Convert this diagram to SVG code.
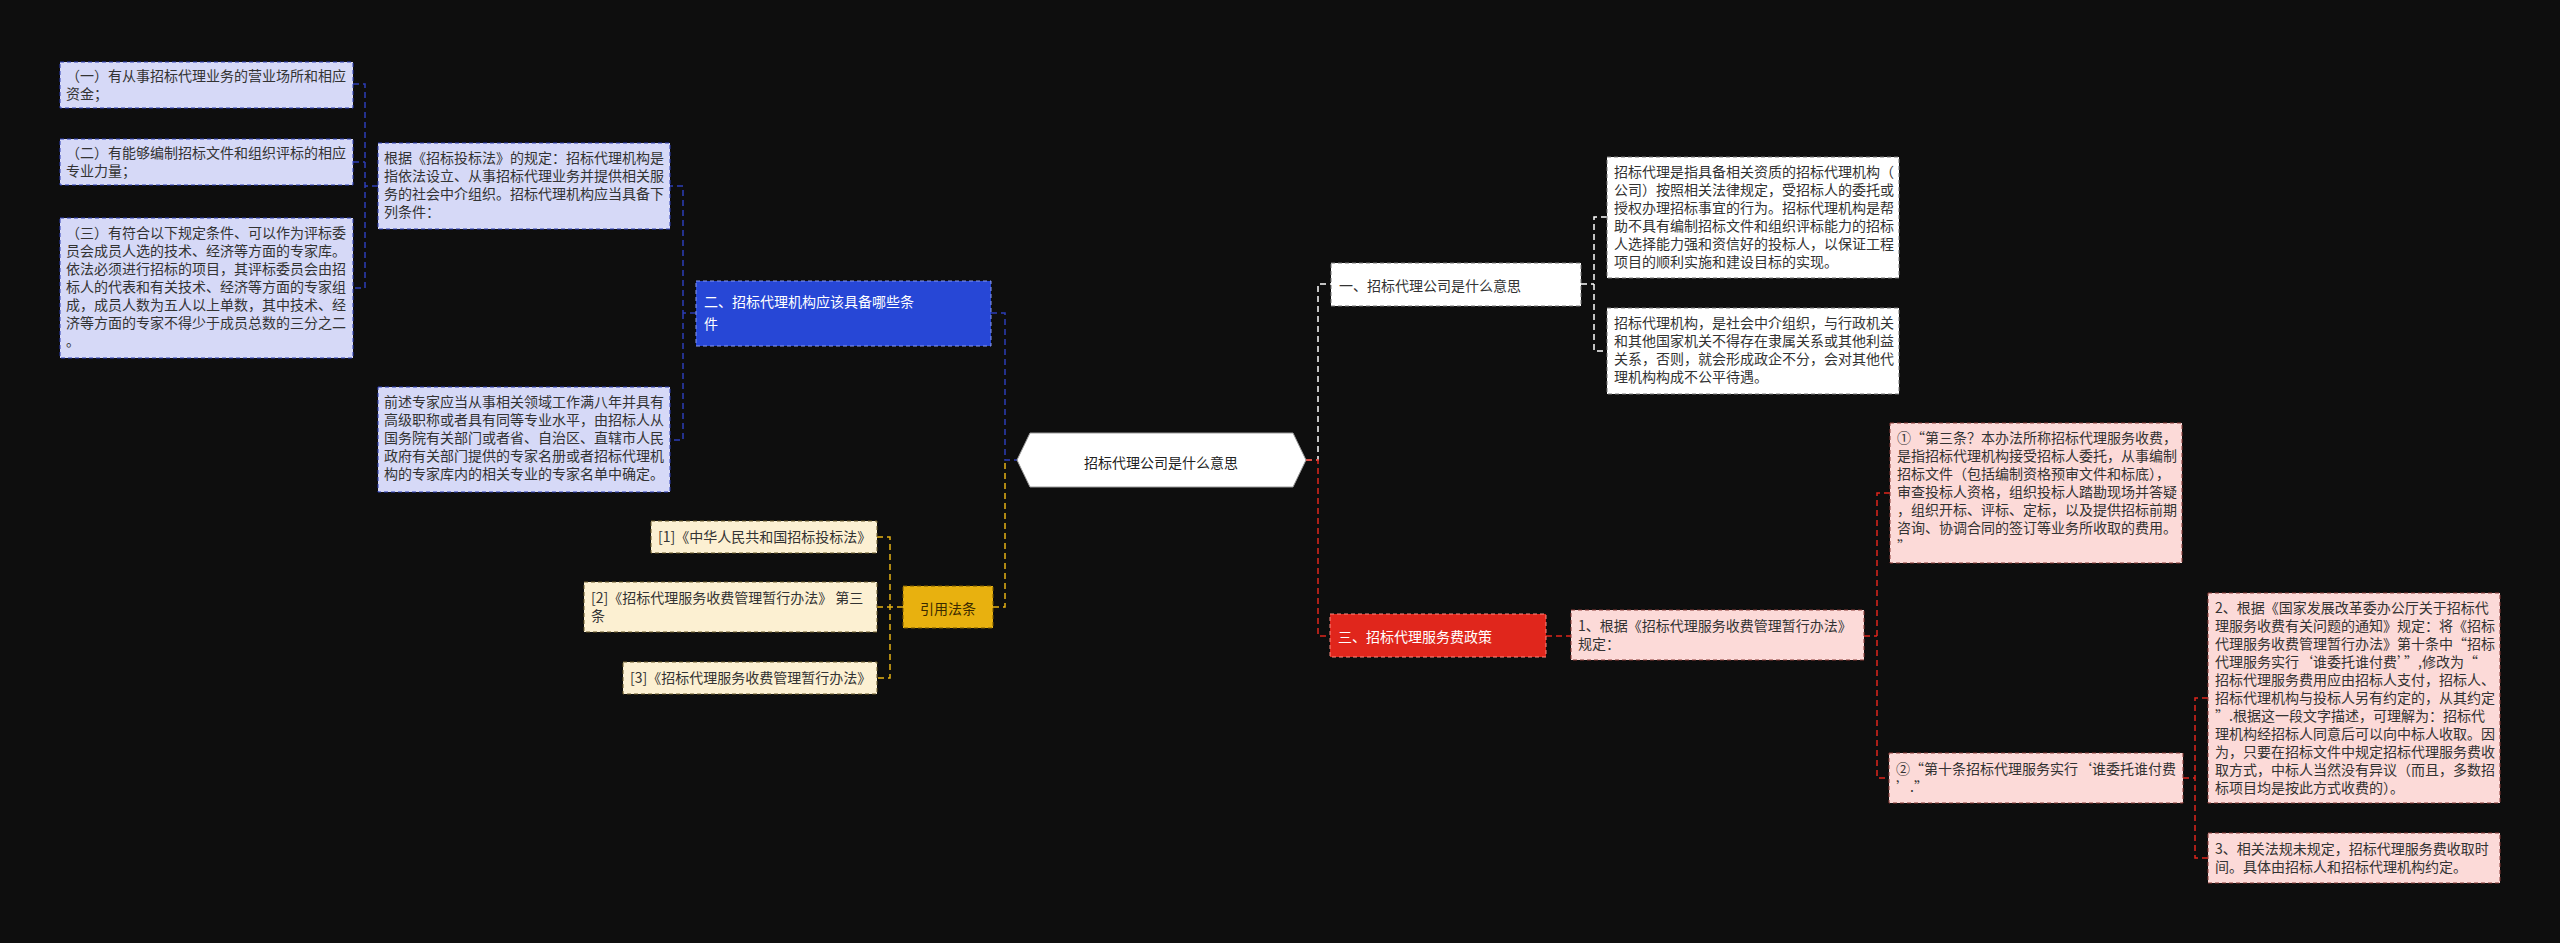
<svg xmlns="http://www.w3.org/2000/svg" width="2560" height="943" viewBox="0 0 2560 943">
<style>
text{font-family:"Noto Sans CJK SC","Noto Sans",sans-serif;font-size:14px;}
.bl{fill:#d6d9f7;stroke:#2c3eb8;stroke-dasharray:4 3;stroke-width:1}
.ye{fill:#fcf0d2;stroke:#6b5a2a;stroke-dasharray:4 3}
.pk{fill:#fcdad8;stroke:#8a3a36;stroke-dasharray:4 3}
.wh{fill:#ffffff;stroke:#777;stroke-dasharray:4 3}
.t{fill:#333}
.c{fill:none;stroke-width:1.5;stroke-dasharray:6 4}
</style>
<rect width="2560" height="943" fill="#0e0e0e"/>
<g id="connectors">
<path class="c" stroke="#2c3eb8" d="M378 186H365M353 84H365V288H353M353 162H365"/>
<path class="c" stroke="#2c3eb8" d="M696 313H683V186H670M683 313V440H670"/>
<path class="c" stroke="#2c3eb8" d="M991 313H1005V460H1017"/>
<path class="c" stroke="#e6b216" d="M993 607H1005V460"/>
<path class="c" stroke="#e6b216" d="M903 607H890M877 537H890V678H877M877 607H890"/>
<path class="c" stroke="#ffffff" d="M1306 460H1318V284H1331"/>
<path class="c" stroke="#e0261c" d="M1306 460H1318V636H1330"/>
<path class="c" stroke="#ffffff" d="M1581 284H1594M1607 217H1594V351H1607"/>
<path class="c" stroke="#e0261c" d="M1546 636H1571"/>
<path class="c" stroke="#e0261c" d="M1864 636H1877M1890 493H1877V778H1890"/>
<path class="c" stroke="#e0261c" d="M2183 778H2195M2208 698H2195V858H2208"/>
</g>
<g id="center"><path d="M1017 460L1030 433H1293L1306 460L1293 487H1030Z" fill="#fff" stroke="#999"/><text x="1161" y="468" text-anchor="middle" font-size="22" fill="#222">招标代理公司是什么意思</text></g>
<g id="n1"><rect class="bl" x="60" y="62" width="293" height="46"/><text class="t" x="66" y="81"><tspan>（一）有从事招标代理业务的营业场所和相应</tspan><tspan x="66" dy="18">资金；</tspan></text></g>
<g id="n2"><rect class="bl" x="60" y="139" width="293" height="46"/><text class="t" x="66" y="158"><tspan>（二）有能够编制招标文件和组织评标的相应</tspan><tspan x="66" dy="18">专业力量；</tspan></text></g>
<g id="n3"><rect class="bl" x="60" y="218" width="293" height="140"/><text class="t" x="66" y="238"><tspan>（三）有符合以下规定条件、可以作为评标委</tspan><tspan x="66" dy="18">员会成员人选的技术、经济等方面的专家库。</tspan><tspan x="66" dy="18">依法必须进行招标的项目，其评标委员会由招</tspan><tspan x="66" dy="18">标人的代表和有关技术、经济等方面的专家组</tspan><tspan x="66" dy="18">成，成员人数为五人以上单数，其中技术、经</tspan><tspan x="66" dy="18">济等方面的专家不得少于成员总数的三分之二</tspan><tspan x="66" dy="18">。</tspan></text></g>
<g id="n4"><rect class="bl" x="378" y="143" width="292" height="86"/><text class="t" x="384" y="163"><tspan>根据《招标投标法》的规定：招标代理机构是</tspan><tspan x="384" dy="18">指依法设立、从事招标代理业务并提供相关服</tspan><tspan x="384" dy="18">务的社会中介组织。招标代理机构应当具备下</tspan><tspan x="384" dy="18">列条件：</tspan></text></g>
<g id="n5"><rect class="bl" x="378" y="387" width="292" height="105"/><text class="t" x="384" y="407"><tspan>前述专家应当从事相关领域工作满八年并具有</tspan><tspan x="384" dy="18">高级职称或者具有同等专业水平，由招标人从</tspan><tspan x="384" dy="18">国务院有关部门或者省、自治区、直辖市人民</tspan><tspan x="384" dy="18">政府有关部门提供的专家名册或者招标代理机</tspan><tspan x="384" dy="18">构的专家库内的相关专业的专家名单中确定。</tspan></text></g>
<g id="b2"><rect x="696" y="281" width="295" height="65" fill="#2747d6" stroke="#8a9af0" stroke-dasharray="4 3"/><text x="704" y="307" font-size="17" fill="#fff"><tspan>二、招标代理机构应该具备哪些条</tspan><tspan x="704" dy="22">件</tspan></text></g>
<g id="ref"><rect x="903" y="586" width="90" height="42" fill="#e8b10f" stroke="#7a5a00" stroke-dasharray="4 3"/><text x="948" y="614" text-anchor="middle" font-size="19" fill="#3a2a00">引用法条</text></g>
<g id="r1"><rect class="ye" x="651" y="521" width="226" height="32"/><text class="t" x="658" y="542">[1]《中华人民共和国招标投标法》</text></g>
<g id="r2"><rect class="ye" x="584" y="582" width="293" height="50"/><text class="t" x="591" y="603"><tspan>[2]《招标代理服务收费管理暂行办法》 第三</tspan><tspan x="591" dy="18">条</tspan></text></g>
<g id="r3"><rect class="ye" x="623" y="662" width="254" height="32"/><text class="t" x="630" y="683">[3]《招标代理服务收费管理暂行办法》</text></g>
<g id="b1"><rect class="wh" x="1331" y="263" width="250" height="43"/><text x="1339" y="291" font-size="18" fill="#333">一、招标代理公司是什么意思</text></g>
<g id="a1"><rect class="wh" x="1607" y="157" width="292" height="121"/><text class="t" x="1614" y="177"><tspan>招标代理是指具备相关资质的招标代理机构（</tspan><tspan x="1614" dy="18">公司）按照相关法律规定，受招标人的委托或</tspan><tspan x="1614" dy="18">授权办理招标事宜的行为。招标代理机构是帮</tspan><tspan x="1614" dy="18">助不具有编制招标文件和组织评标能力的招标</tspan><tspan x="1614" dy="18">人选择能力强和资信好的投标人，以保证工程</tspan><tspan x="1614" dy="18">项目的顺利实施和建设目标的实现。</tspan></text></g>
<g id="a2"><rect class="wh" x="1607" y="308" width="292" height="86"/><text class="t" x="1614" y="328"><tspan>招标代理机构，是社会中介组织，与行政机关</tspan><tspan x="1614" dy="18">和其他国家机关不得存在隶属关系或其他利益</tspan><tspan x="1614" dy="18">关系，否则，就会形成政企不分，会对其他代</tspan><tspan x="1614" dy="18">理机构构成不公平待遇。</tspan></text></g>
<g id="b3"><rect x="1330" y="614" width="216" height="43" fill="#e0261c" stroke="#ff8a80" stroke-dasharray="4 3"/><text x="1338" y="642" font-size="18" fill="#fff">三、招标代理服务费政策</text></g>
<g id="p1"><rect class="pk" x="1571" y="610" width="293" height="50"/><text class="t" x="1578" y="631"><tspan>1、根据《招标代理服务收费管理暂行办法》</tspan><tspan x="1578" dy="18">规定：</tspan></text></g>
<g id="p2"><rect class="pk" x="1890" y="423" width="292" height="140"/><text class="t" x="1897" y="443"><tspan>①“第三条？本办法所称招标代理服务收费，</tspan><tspan x="1897" dy="18">是指招标代理机构接受招标人委托，从事编制</tspan><tspan x="1897" dy="18">招标文件（包括编制资格预审文件和标底），</tspan><tspan x="1897" dy="18">审查投标人资格，组织投标人踏勘现场并答疑</tspan><tspan x="1897" dy="18">，组织开标、评标、定标，以及提供招标前期</tspan><tspan x="1897" dy="18">咨询、协调合同的签订等业务所收取的费用。</tspan><tspan x="1897" dy="18">”</tspan></text></g>
<g id="p3"><rect class="pk" x="1889" y="753" width="294" height="50"/><text class="t" x="1896" y="774"><tspan>②“第十条招标代理服务实行‘谁委托谁付费</tspan><tspan x="1896" dy="18">’.”</tspan></text></g>
<g id="p4"><rect class="pk" x="2208" y="593" width="292" height="210"/><text class="t" x="2215" y="613"><tspan>2、根据《国家发展改革委办公厅关于招标代</tspan><tspan x="2215" dy="18">理服务收费有关问题的通知》规定：将《招标</tspan><tspan x="2215" dy="18">代理服务收费管理暂行办法》第十条中“招标</tspan><tspan x="2215" dy="18">代理服务实行‘谁委托谁付费’”,修改为“</tspan><tspan x="2215" dy="18">招标代理服务费用应由招标人支付，招标人、</tspan><tspan x="2215" dy="18">招标代理机构与投标人另有约定的，从其约定</tspan><tspan x="2215" dy="18">”.根据这一段文字描述，可理解为：招标代</tspan><tspan x="2215" dy="18">理机构经招标人同意后可以向中标人收取。因</tspan><tspan x="2215" dy="18">为，只要在招标文件中规定招标代理服务费收</tspan><tspan x="2215" dy="18">取方式，中标人当然没有异议（而且，多数招</tspan><tspan x="2215" dy="18">标项目均是按此方式收费的）。</tspan></text></g>
<g id="p5"><rect class="pk" x="2208" y="833" width="292" height="50"/><text class="t" x="2215" y="854"><tspan>3、相关法规未规定，招标代理服务费收取时</tspan><tspan x="2215" dy="18">间。具体由招标人和招标代理机构约定。</tspan></text></g>
</svg>
